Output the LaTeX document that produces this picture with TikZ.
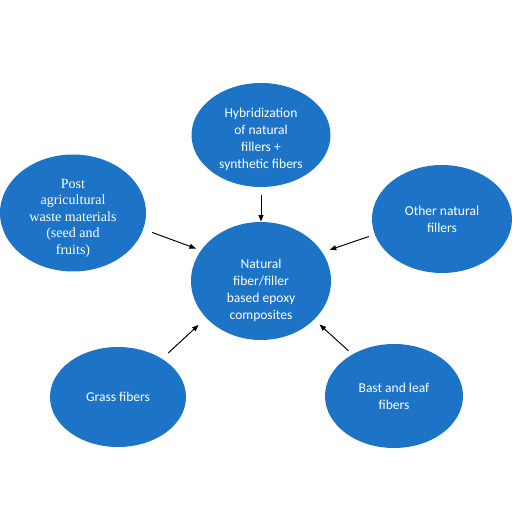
\documentclass[tikz,border=0pt]{standalone}
\usepackage{fontspec}
\setmainfont{Carlito}
\newfontfamily\timesfont{Liberation Serif}
\usetikzlibrary{arrows.meta,shapes.geometric}

\definecolor{nodeblue}{RGB}{29,116,198}

\begin{document}
\begin{tikzpicture}[
  font=\fontsize{7.7}{9.7}\selectfont,
  every path/.style={line width=0.55pt},
  link/.style={draw=black, -{Triangle[length=1.3mm,width=1mm]}},
  blob/.style={draw=none, fill=nodeblue, text=white, shape=ellipse, align=center, inner sep=0pt},
  blobtext/.style={text=white, align=center, inner sep=0pt}
]

\useasboundingbox (0,0) rectangle (10.24,10.24);

% ----- Fixed coordinates for the layout
\coordinate (C0) at (5.22,4.62);
\coordinate (C1) at (5.22,7.54);
\coordinate (C2) at (1.46,5.98);
\coordinate (C3) at (8.84,5.86);
\coordinate (C4) at (2.36,2.30);
\coordinate (C5) at (7.88,2.32);

% ----- Hub (text sits a bit low in the ellipse)
\node[blob, minimum width=2.80cm, minimum height=2.36cm,
  label={[blobtext, yshift=-0.18cm]center:Natural\\fiber/filler\\based epoxy\\composites}] at (C0) (hub) {};

% ----- Sources
\node[blob, minimum width=2.78cm, minimum height=2.08cm,
  label={[blobtext, yshift=-0.08cm]center:Hybridization\\of natural\\fillers +\\synthetic fibers}] at (C1) (hybrid) {};
\node[blob, minimum width=2.92cm, minimum height=2.34cm,
  label={[blobtext, yshift=-0.10cm, font=\timesfont\fontsize{8}{9.4}\selectfont]center:Post\\agricultural\\waste materials\\(seed and\\fruits)}] at (C2) (waste) {};
\node[blob, minimum width=2.80cm, minimum height=2.16cm] at (C3) (other) {Other natural\\fillers};
\node[blob, minimum width=2.72cm, minimum height=2.00cm] at (C4) (grass) {Grass fibers};
\node[blob, minimum width=2.76cm, minimum height=2.08cm] at (C5) (bast) {Bast and leaf\\fibers};

% ----- Arrows into the hub
\draw[link, shorten <=0.16cm, shorten >=0pt] (hybrid.south) -- (hub.north);
\draw[link, shorten <=0.18cm, shorten >=0.10cm] (waste.-13.5) -- (hub.153.8);
\draw[link, shorten <=0.12cm, shorten >=0.15cm] (other.193.1) -- (hub.25.2);
\draw[link, shorten <=0.16cm, shorten >=0.20cm] (grass.41) -- (hub.214);
\draw[link, shorten <=0.10cm, shorten >=0.14cm] (bast.135) -- (hub.-36.1);

\end{tikzpicture}
\end{document}
